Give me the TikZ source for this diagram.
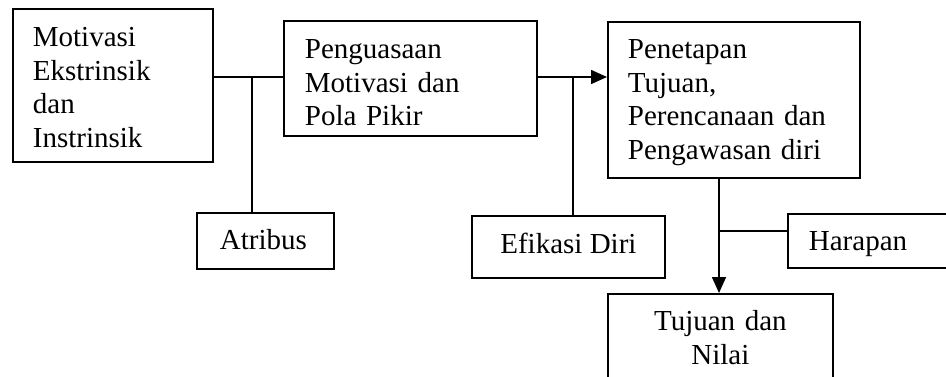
\documentclass[tikz,border=0pt]{standalone}
\usepackage{fontspec}
\setmainfont{Liberation Serif}
\usetikzlibrary{arrows.meta}
\begin{document}
\begin{tikzpicture}[x=1pt,y=-1pt,
  box/.style={draw, line width=1.8pt, inner sep=0pt, anchor=north west,
    font=\fontsize{29}{33.5}\selectfont},
  leftbox/.style={box, align=left},
  midbox/.style={box, align=center},
  link/.style={line width=1.6pt},
  arrowlink/.style={link, -{Triangle[length=16pt,width=14pt]}}]
\useasboundingbox (0,0) rectangle (946,376);

% boxes (text height/depth place the first baseline inside each box)
\node[leftbox, minimum width=200pt, minimum height=153pt, text width=160pt,
      text height=23.5pt, text depth=100.5pt] (m) at (12,8)
  {Motivasi\\Ekstrinsik\\dan\\Instrinsik};
\node[leftbox, minimum width=253pt, minimum height=115pt, text width=211pt,
      text height=27.4pt, text depth=67pt] (p) at (283,20)
  {Penguasaan\\Motivasi dan\\Pola Pikir};
\node[leftbox, minimum width=252pt, minimum height=156pt, text width=212pt,
      text height=17.9pt, text depth=100.5pt] (t) at (607,21)
  {Penetapan\\Tujuan,\\Perencanaan dan\\Pengawasan diri};
\node[leftbox, minimum width=137pt, minimum height=56pt, text width=91pt,
      text height=18pt, text depth=0pt] (a) at (196,212) {Atribus};
\node[midbox, minimum width=193pt, minimum height=62pt,
      text height=13pt, text depth=0pt] (e) at (471,215) {Efikasi Diri};
\node[leftbox, minimum width=170pt, minimum height=54pt, text width=128pt,
      text height=18.6pt, text depth=0pt] (h) at (787,213) {Harapan};
\node[midbox, minimum width=225pt, minimum height=100pt, text width=200pt,
      text height=7.5pt, text depth=33.5pt] (n) at (607,293)
  {Tujuan dan\\Nilai};

% junction points
\coordinate (j1) at (252,77);
\coordinate (j2) at (573,77);
\coordinate (j3) at (719,231);

% connectors
\draw[link] (m.east |- j1) -- (p.west |- j1);
\draw[link] (j1) -- (j1 |- a.north);
\draw[arrowlink] (p.east |- j2) -- (t.west |- j2);
\draw[link] (j2) -- (j2 |- e.north);
\draw[arrowlink] (t.south -| j3) -- (n.north -| j3);
\draw[link] (j3) -- (h.west |- j3);
\end{tikzpicture}
\end{document}
